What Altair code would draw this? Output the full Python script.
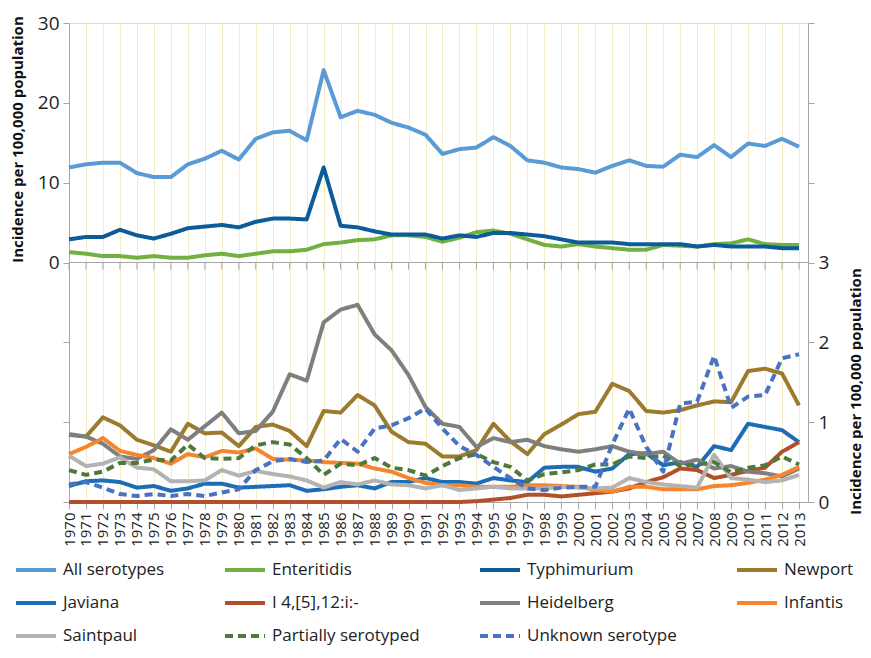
import altair as alt
import pandas as pd

years = list(range(1970, 2014))

all_serotypes = [11.9, 12.3, 12.5, 12.5, 11.2, 10.7, 10.7, 12.3, 13.0, 14.0, 12.9, 15.5, 16.3, 16.5, 15.3,
                 24.1, 18.2, 19.0, 18.5, 17.5, 16.9, 16.0, 13.6, 14.2, 14.4, 15.7, 14.6, 12.8, 12.5, 11.9,
                 11.7, 11.25, 12.1, 12.8, 12.1, 12.0, 13.5, 13.2, 14.7, 13.2, 14.9, 14.6, 15.5, 14.5]
enteritidis = [1.3, 1.1, 0.8, 0.8, 0.6, 0.8, 0.6, 0.6, 0.9, 1.1, 0.8, 1.1, 1.4, 1.4, 1.6,
               2.3, 2.5, 2.8, 2.9, 3.4, 3.4, 3.2, 2.6, 3.1, 3.8, 4.0, 3.6, 2.9, 2.2, 2.0,
               2.3, 2.0, 1.8, 1.6, 1.6, 2.2, 2.1, 2.0, 2.3, 2.4, 2.9, 2.3, 2.2, 2.2]
typhimurium = [2.9, 3.2, 3.2, 4.1, 3.4, 3.0, 3.6, 4.3, 4.5, 4.7, 4.4, 5.1, 5.5, 5.5, 5.4,
               11.9, 4.6, 4.4, 3.9, 3.5, 3.5, 3.5, 3.0, 3.4, 3.2, 3.7, 3.7, 3.5, 3.3, 2.9,
               2.5, 2.5, 2.5, 2.3, 2.3, 2.3, 2.3, 2.0, 2.2, 2.0, 2.0, 2.0, 1.8, 1.8]

newport = [0.84, 0.82, 1.06, 0.96, 0.78, 0.71, 0.63, 0.98, 0.86, 0.87, 0.70, 0.94, 0.97, 0.89, 0.70,
           1.14, 1.12, 1.34, 1.21, 0.88, 0.75, 0.73, 0.57, 0.57, 0.65, 0.98, 0.76, 0.60, 0.85, 0.97,
           1.10, 1.13, 1.48, 1.39, 1.14, 1.12, 1.15, 1.21, 1.26, 1.25, 1.64, 1.67, 1.61, 1.21]
javiana = [0.20, 0.26, 0.27, 0.25, 0.18, 0.20, 0.14, 0.17, 0.23, 0.23, 0.18, 0.19, 0.20, 0.21, 0.14,
           0.16, 0.19, 0.21, 0.17, 0.25, 0.25, 0.30, 0.25, 0.25, 0.23, 0.30, 0.27, 0.25, 0.43, 0.44,
           0.44, 0.38, 0.42, 0.60, 0.61, 0.46, 0.50, 0.44, 0.70, 0.65, 0.98, 0.94, 0.90, 0.75]
i4512 = [0.0, 0.0, 0.0, 0.0, 0.0, 0.0, 0.0, 0.0, 0.0, 0.0, 0.0, 0.0, 0.0, 0.0, 0.0,
         0.0, 0.0, 0.0, 0.0, 0.0, 0.0, 0.0, 0.0, 0.0, 0.01, 0.03, 0.05, 0.09, 0.09, 0.07,
         0.09, 0.11, 0.13, 0.17, 0.25, 0.31, 0.42, 0.40, 0.30, 0.34, 0.39, 0.43, 0.63, 0.75]
heidelberg = [0.85, 0.82, 0.73, 0.57, 0.54, 0.65, 0.91, 0.78, 0.95, 1.12, 0.86, 0.89, 1.13, 1.60, 1.52,
              2.25, 2.41, 2.47, 2.10, 1.90, 1.59, 1.19, 0.98, 0.94, 0.69, 0.80, 0.75, 0.78, 0.70, 0.66,
              0.63, 0.66, 0.70, 0.63, 0.60, 0.63, 0.48, 0.53, 0.42, 0.45, 0.38, 0.36, 0.32, 0.42]
infantis = [0.60, 0.69, 0.80, 0.64, 0.59, 0.55, 0.48, 0.60, 0.56, 0.64, 0.62, 0.67, 0.54, 0.53, 0.52,
            0.50, 0.49, 0.48, 0.42, 0.38, 0.30, 0.24, 0.21, 0.21, 0.19, 0.19, 0.19, 0.21, 0.21, 0.20,
            0.19, 0.15, 0.13, 0.19, 0.19, 0.16, 0.16, 0.16, 0.20, 0.21, 0.24, 0.28, 0.34, 0.44]
saintpaul = [0.58, 0.45, 0.48, 0.56, 0.43, 0.41, 0.26, 0.26, 0.27, 0.40, 0.33, 0.39, 0.35, 0.32, 0.27,
             0.18, 0.25, 0.22, 0.27, 0.22, 0.21, 0.17, 0.21, 0.15, 0.17, 0.19, 0.17, 0.17, 0.17, 0.19,
             0.18, 0.17, 0.18, 0.30, 0.25, 0.22, 0.20, 0.18, 0.59, 0.30, 0.28, 0.25, 0.27, 0.34]
partially = [0.40, 0.34, 0.38, 0.49, 0.49, 0.53, 0.52, 0.72, 0.55, 0.54, 0.55, 0.71, 0.75, 0.72, 0.55,
             0.34, 0.48, 0.46, 0.55, 0.43, 0.40, 0.33, 0.45, 0.55, 0.60, 0.50, 0.44, 0.27, 0.35, 0.37,
             0.40, 0.47, 0.47, 0.57, 0.55, 0.58, 0.45, 0.47, 0.50, 0.37, 0.43, 0.46, 0.57, 0.47]
unknown = [0.22, 0.25, 0.18, 0.10, 0.075, 0.10, 0.075, 0.10, 0.075, 0.12, 0.16, 0.40, 0.51, 0.54, 0.50,
           0.52, 0.79, 0.63, 0.92, 0.96, 1.05, 1.17, 0.92, 0.70, 0.59, 0.44, 0.30, 0.17, 0.15, 0.18,
           0.19, 0.19, 0.72, 1.17, 0.69, 0.38, 1.23, 1.26, 1.83, 1.18, 1.32, 1.34, 1.80, 1.85]

top_series = {"All serotypes": all_serotypes, "Enteritidis": enteritidis, "Typhimurium": typhimurium}
bottom_series = {"Newport": newport, "Javiana": javiana, "I 4,[5],12:i:-": i4512,
                 "Heidelberg": heidelberg, "Infantis": infantis, "Saintpaul": saintpaul,
                 "Partially serotyped": partially, "Unknown serotype": unknown}

legend_order = ["All serotypes", "Enteritidis", "Typhimurium", "Newport",
                "Javiana", "I 4,[5],12:i:-", "Heidelberg", "Infantis",
                "Saintpaul", "Partially serotyped", "Unknown serotype"]
colors = ["#5B9BD5", "#72B043", "#0B5C99", "#9C7A2E",
          "#1B6DB5", "#B0512B", "#7F7F7F", "#F5862F",
          "#B3B3B3", "#4D7A3C", "#4A72C2"]
widths = [4, 4, 4, 2.5, 2.5, 2.5, 2.5, 2.5, 2.5, 2.5, 2.5]
dashes = [[1, 0]] * 9 + [[8, 5], [8, 5]]


def long_df(d):
    rows = []
    for name, vals in d.items():
        for y, v in zip(years, vals):
            rows.append({"year": y, "series": name, "value": v})
    return pd.DataFrame(rows)


top_df = long_df(top_series)
bottom_df = long_df(bottom_series)

AXIS_GRAY = "#A6A6A6"
FONT = "Open Sans"

x_scale = alt.Scale(domain=[1970, 2013.53], nice=False, zero=False)
x_axis = alt.Axis(values=years, format="d", labelAngle=270, grid=True, gridColor="#F3ECC4",
                  gridWidth=1, tickColor=AXIS_GRAY, domainColor=AXIS_GRAY, tickSize=7,
                  labelFontSize=15, labelFont=FONT, labelColor="#222222", title=None,
                  labelPadding=3, labelOverlap=False)

left_scale = alt.Scale(domain=[-30, 30], nice=False, zero=False)
right_scale = alt.Scale(domain=[0, 6], nice=False, zero=False)

left_axis = alt.Axis(values=[-30, -20, -10, 0, 10, 20, 30],
                     labelExpr="datum.value >= 0 ? datum.label : ''",
                     title="Incidence per 100,000 population", titleFont=FONT,
                     titleFontSize=15, titleFontWeight="bold", titleColor="#111111",
                     titleAngle=270, titleY=116, titleX=-52, titleAlign="center",
                     titleBaseline="middle",
                     labelFontSize=19, labelFont=FONT, labelColor="#222222",
                     tickColor=AXIS_GRAY, domainColor=AXIS_GRAY, tickSize=6,
                     labelPadding=4, grid=False)

right_axis = alt.Axis(orient="right", values=[0, 1, 2, 3, 4, 5, 6],
                      labelExpr="datum.value <= 3 ? datum.label : ''",
                      title="Incidence  per 100,000 population", titleFont=FONT,
                      titleFontSize=15, titleFontWeight="bold", titleColor="#111111",
                      titleAngle=270, titleY=368, titleX=47, titleAlign="center",
                      titleBaseline="middle",
                      labelFontSize=19, labelFont=FONT, labelColor="#222222",
                      tickColor=AXIS_GRAY, domainColor=AXIS_GRAY, tickSize=6,
                      labelPadding=4, grid=False)

legend = alt.Legend(title=None, orient="none", direction="horizontal", legendX=-55, legendY=525,
                    columns=4, columnPadding=52, rowPadding=3, labelFontSize=17, labelFont=FONT,
                    labelColor="#222222", symbolType="stroke", symbolSize=1600, labelOffset=5,
                    labelLimit=300)

color_enc = alt.Color("series:N", scale=alt.Scale(domain=legend_order, range=colors),
                      sort=legend_order, legend=legend)
dash_enc = alt.StrokeDash("series:N", scale=alt.Scale(domain=legend_order, range=dashes),
                          sort=legend_order, legend=legend)
width_enc = alt.StrokeWidth("series:N", scale=alt.Scale(domain=legend_order, range=widths),
                            sort=legend_order, legend=legend)

top_lines = alt.Chart(top_df).mark_line(strokeCap="butt", strokeJoin="round").encode(
    x=alt.X("year:Q", scale=x_scale, axis=x_axis),
    y=alt.Y("value:Q", scale=left_scale, axis=left_axis),
    color=color_enc, strokeDash=dash_enc, strokeWidth=width_enc,
    order=alt.Order("year:Q"),
)

zero_line = alt.Chart(top_df).mark_rule(color=AXIS_GRAY, strokeWidth=1).encode(
    y=alt.Y(datum=0, scale=left_scale, axis=left_axis)
)

zero_ticks = alt.Chart(pd.DataFrame({"year": years})).mark_rule(
    color=AXIS_GRAY, strokeWidth=1).encode(
    x=alt.X("year:Q", scale=x_scale, axis=x_axis),
    y=alt.Y(datum=0, scale=left_scale, axis=left_axis),
    y2=alt.Y2(datum=-0.9),
)

left_layer = alt.layer(zero_line, zero_ticks, top_lines)

bottom_lines = alt.Chart(bottom_df).mark_line(strokeCap="butt", strokeJoin="round").encode(
    x=alt.X("year:Q", scale=x_scale, axis=x_axis),
    y=alt.Y("value:Q", scale=right_scale, axis=right_axis),
    color=color_enc, strokeDash=dash_enc, strokeWidth=width_enc,
    order=alt.Order("year:Q"),
)

chart = alt.layer(left_layer, bottom_lines).resolve_scale(y="independent").properties(
    width=739, height=479,
    padding={"left": 61, "top": 15, "right": 55, "bottom": 148},
    autosize=alt.AutoSizeParams(type="none"),
).configure_view(stroke=AXIS_GRAY, strokeWidth=1).configure(font=FONT)

chart.save("out.html", embed_options={"renderer": "svg", "actions": False})
